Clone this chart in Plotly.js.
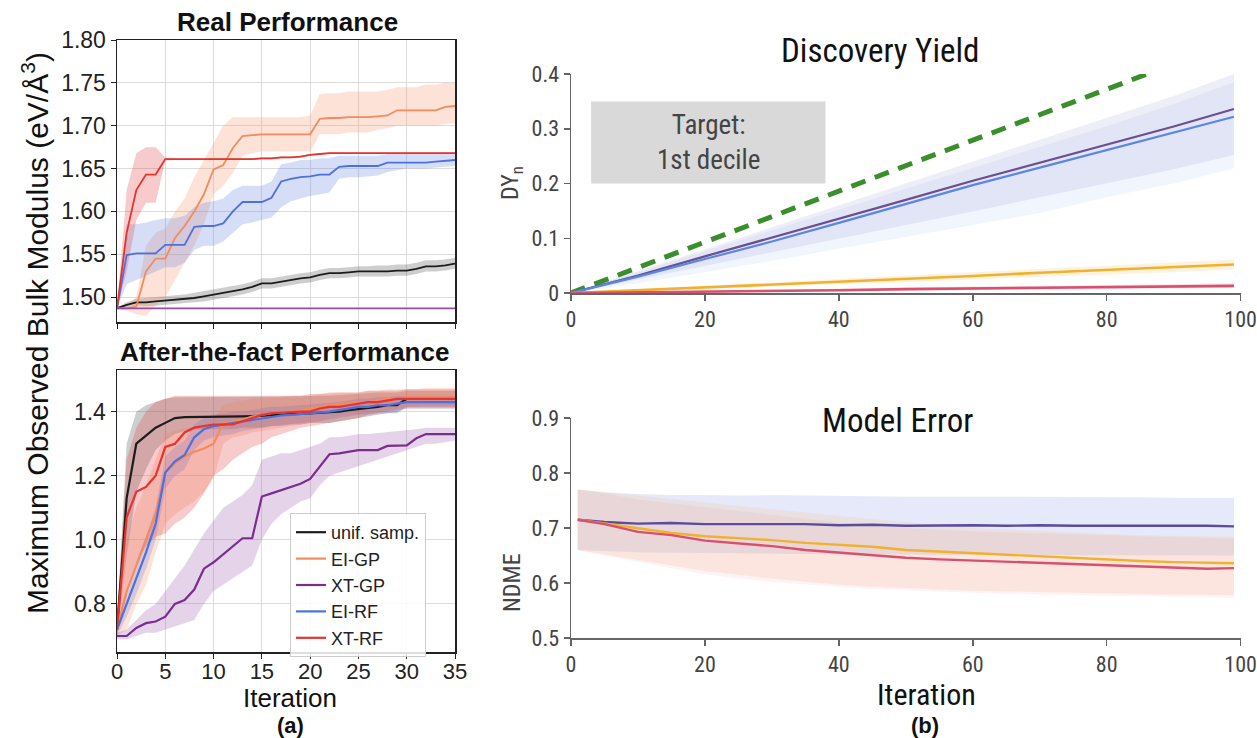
<!DOCTYPE html>
<html>
<head>
<meta charset="utf-8">
<script src="https://cdn.plot.ly/plotly-3.0.1.min.js"></script>
<style>html,body{margin:0;padding:0;background:#fff;}#chart{width:1257px;height:738px;}</style>
</head>
<body>
<div id="chart"></div>
<script>
// ---------- Panel (a) top: Real Performance ----------
const RP_X = [0,1,2,3,4,5,6,7,8,9,10,11,12,13,14,15,16,17,18,19,20,21,22,23,24,25,26,27,28,29,30,31,32,33,34,35];
const RP_UNIF = [1.487,1.491,1.494,1.494,1.495,1.496,1.497,1.498,1.499,1.501,1.503,1.505,1.507,1.509,1.512,1.516,1.516,1.518,1.520,1.522,1.523,1.526,1.528,1.528,1.529,1.530,1.530,1.530,1.530,1.531,1.531,1.533,1.536,1.536,1.537,1.539];
const RP_UNIF_HI = [1.488,1.494,1.498,1.499,1.500,1.501,1.502,1.503,1.505,1.507,1.509,1.511,1.513,1.515,1.518,1.522,1.522,1.524,1.526,1.528,1.529,1.532,1.534,1.534,1.535,1.536,1.536,1.537,1.537,1.538,1.538,1.540,1.543,1.543,1.544,1.546];
const RP_UNIF_LO = [1.486,1.488,1.490,1.489,1.490,1.491,1.492,1.493,1.494,1.495,1.497,1.499,1.501,1.503,1.506,1.510,1.510,1.512,1.514,1.516,1.517,1.520,1.522,1.522,1.523,1.524,1.524,1.524,1.524,1.525,1.525,1.527,1.530,1.530,1.531,1.533];
const RP_EIGP = [1.487,1.487,1.489,1.530,1.545,1.545,1.569,1.583,1.600,1.620,1.649,1.654,1.674,1.688,1.689,1.690,1.690,1.690,1.690,1.690,1.690,1.708,1.709,1.709,1.710,1.710,1.710,1.711,1.712,1.718,1.718,1.718,1.718,1.718,1.722,1.723];
const RP_EIGP_HI = [1.487,1.490,1.500,1.560,1.575,1.580,1.600,1.615,1.640,1.660,1.680,1.700,1.710,1.710,1.710,1.710,1.710,1.710,1.710,1.710,1.712,1.737,1.738,1.738,1.740,1.740,1.740,1.740,1.742,1.745,1.745,1.745,1.748,1.748,1.750,1.750];
const RP_EIGP_LO = [1.487,1.484,1.480,1.478,1.490,1.500,1.520,1.540,1.560,1.585,1.620,1.630,1.645,1.665,1.668,1.670,1.670,1.670,1.670,1.670,1.670,1.690,1.690,1.690,1.692,1.692,1.692,1.695,1.697,1.700,1.700,1.700,1.700,1.700,1.702,1.703];
const RP_XTGP = [1.487,1.487,1.487,1.487,1.487,1.487,1.487,1.487,1.487,1.487,1.487,1.487,1.487,1.487,1.487,1.487,1.487,1.487,1.487,1.487,1.487,1.487,1.487,1.487,1.487,1.487,1.487,1.487,1.487,1.487,1.487,1.487,1.487,1.487,1.487,1.487];
const RP_EIRF = [1.487,1.549,1.551,1.551,1.551,1.561,1.561,1.561,1.582,1.583,1.583,1.586,1.600,1.611,1.611,1.611,1.616,1.635,1.638,1.640,1.641,1.643,1.643,1.652,1.653,1.653,1.653,1.653,1.657,1.657,1.657,1.657,1.657,1.658,1.659,1.660];
const RP_EIRF_HI = [1.487,1.585,1.585,1.587,1.590,1.592,1.592,1.595,1.605,1.610,1.612,1.615,1.625,1.630,1.630,1.630,1.635,1.655,1.657,1.660,1.660,1.662,1.662,1.665,1.665,1.665,1.665,1.665,1.667,1.667,1.667,1.667,1.667,1.667,1.667,1.668];
const RP_EIRF_LO = [1.487,1.515,1.520,1.525,1.530,1.535,1.535,1.540,1.555,1.560,1.560,1.565,1.575,1.585,1.587,1.590,1.593,1.605,1.612,1.615,1.618,1.620,1.622,1.638,1.640,1.640,1.641,1.642,1.646,1.648,1.650,1.650,1.650,1.651,1.652,1.653];
const RP_XTRF = [1.487,1.575,1.625,1.643,1.643,1.661,1.661,1.661,1.661,1.661,1.661,1.661,1.661,1.661,1.661,1.662,1.662,1.663,1.663,1.664,1.666,1.667,1.668,1.668,1.668,1.668,1.668,1.668,1.668,1.668,1.668,1.668,1.668,1.668,1.668,1.668];
const RP_XTRF_HI = [1.487,1.625,1.668,1.675,1.675,1.663,1.662,1.662,1.662,1.662,1.662,1.662,1.662,1.662,1.662,1.663,1.663,1.664,1.664,1.665,1.667,1.668,1.669,1.669,1.669,1.669,1.669,1.669,1.669,1.669,1.669,1.669,1.669,1.669,1.669,1.669];
const RP_XTRF_LO = [1.487,1.530,1.590,1.610,1.610,1.659,1.660,1.660,1.660,1.660,1.660,1.660,1.660,1.660,1.660,1.661,1.661,1.662,1.662,1.663,1.665,1.666,1.667,1.667,1.667,1.667,1.667,1.667,1.667,1.667,1.667,1.667,1.667,1.667,1.667,1.667];

// ---------- Panel (a) bottom: After-the-fact Performance ----------
const AF_X = RP_X;
const AF_UNIF = [0.72,1.13,1.30,1.325,1.35,1.365,1.38,1.383,1.383,1.383,1.383,1.383,1.383,1.385,1.386,1.388,1.39,1.39,1.392,1.393,1.395,1.396,1.397,1.40,1.405,1.408,1.41,1.415,1.42,1.42,1.44,1.44,1.44,1.44,1.44,1.44];
const AF_UNIF_HI = [0.75,1.30,1.40,1.42,1.43,1.44,1.445,1.445,1.445,1.445,1.445,1.445,1.445,1.445,1.445,1.445,1.445,1.445,1.447,1.448,1.45,1.45,1.45,1.452,1.455,1.455,1.457,1.46,1.46,1.46,1.465,1.465,1.465,1.465,1.465,1.465];
const AF_UNIF_LO = [0.70,0.95,1.15,1.22,1.28,1.31,1.33,1.34,1.345,1.345,1.345,1.345,1.345,1.35,1.35,1.35,1.355,1.355,1.36,1.36,1.365,1.365,1.365,1.37,1.375,1.38,1.385,1.39,1.395,1.395,1.415,1.415,1.415,1.415,1.415,1.415];
const AF_EIGP = [0.72,0.84,0.92,1.00,1.08,1.21,1.24,1.26,1.275,1.285,1.30,1.365,1.37,1.375,1.385,1.39,1.395,1.397,1.40,1.405,1.41,1.415,1.42,1.425,1.425,1.43,1.43,1.435,1.44,1.44,1.445,1.445,1.445,1.445,1.445,1.445];
const AF_EIGP_HI = [0.78,1.00,1.10,1.17,1.25,1.33,1.34,1.35,1.35,1.36,1.38,1.42,1.43,1.435,1.44,1.44,1.445,1.445,1.45,1.45,1.45,1.455,1.455,1.46,1.46,1.46,1.465,1.465,1.47,1.47,1.47,1.47,1.475,1.475,1.475,1.475];
const AF_EIGP_LO = [0.70,0.72,0.80,0.86,0.96,1.05,1.08,1.10,1.12,1.15,1.19,1.30,1.32,1.325,1.335,1.34,1.345,1.35,1.355,1.36,1.365,1.37,1.38,1.385,1.39,1.39,1.395,1.40,1.405,1.41,1.415,1.415,1.42,1.42,1.42,1.42];
const AF_XTGP = [0.70,0.70,0.725,0.74,0.745,0.76,0.80,0.812,0.845,0.91,0.93,0.955,0.98,1.005,1.005,1.135,1.145,1.155,1.165,1.175,1.19,1.23,1.267,1.27,1.275,1.28,1.28,1.28,1.293,1.295,1.295,1.317,1.33,1.33,1.33,1.33];
const AF_XTGP_HI = [0.71,0.72,0.75,0.78,0.80,0.84,0.88,0.92,0.97,1.02,1.06,1.10,1.12,1.14,1.17,1.25,1.26,1.27,1.27,1.28,1.29,1.30,1.32,1.32,1.325,1.33,1.33,1.333,1.335,1.337,1.34,1.345,1.35,1.35,1.35,1.35];
const AF_XTGP_LO = [0.69,0.69,0.70,0.71,0.71,0.72,0.73,0.74,0.75,0.80,0.84,0.86,0.88,0.90,0.92,1.00,1.05,1.08,1.10,1.12,1.13,1.17,1.20,1.21,1.22,1.23,1.24,1.25,1.26,1.27,1.28,1.29,1.30,1.30,1.305,1.31];
const AF_EIRF = [0.72,0.80,0.88,0.96,1.05,1.21,1.245,1.265,1.32,1.345,1.355,1.36,1.365,1.37,1.375,1.38,1.385,1.388,1.39,1.392,1.395,1.398,1.40,1.405,1.41,1.415,1.415,1.42,1.42,1.425,1.43,1.43,1.43,1.43,1.43,1.43];
const AF_EIRF_HI = [0.74,0.84,0.93,1.01,1.10,1.26,1.29,1.31,1.36,1.38,1.39,1.395,1.40,1.40,1.405,1.41,1.415,1.415,1.418,1.42,1.422,1.425,1.427,1.43,1.435,1.44,1.44,1.445,1.445,1.45,1.45,1.45,1.45,1.45,1.45,1.45];
const AF_EIRF_LO = [0.70,0.76,0.83,0.91,1.00,1.16,1.20,1.22,1.28,1.31,1.32,1.325,1.33,1.34,1.345,1.35,1.355,1.36,1.362,1.365,1.368,1.37,1.375,1.38,1.385,1.39,1.39,1.395,1.395,1.40,1.41,1.41,1.41,1.41,1.41,1.41];
const AF_XTRF = [0.72,1.07,1.15,1.165,1.20,1.29,1.30,1.335,1.35,1.355,1.36,1.36,1.36,1.37,1.38,1.39,1.395,1.397,1.40,1.40,1.40,1.41,1.415,1.415,1.42,1.425,1.43,1.43,1.435,1.44,1.44,1.44,1.44,1.44,1.44,1.44];
const AF_XTRF_HI = [0.75,1.25,1.35,1.40,1.43,1.44,1.45,1.45,1.45,1.45,1.45,1.45,1.45,1.45,1.45,1.45,1.45,1.45,1.45,1.45,1.455,1.455,1.46,1.46,1.46,1.46,1.465,1.465,1.465,1.465,1.47,1.47,1.47,1.47,1.47,1.47];
const AF_XTRF_LO = [0.70,0.85,0.93,0.98,1.01,1.02,1.05,1.07,1.10,1.145,1.20,1.22,1.25,1.27,1.29,1.30,1.32,1.33,1.34,1.35,1.355,1.36,1.365,1.37,1.375,1.38,1.39,1.395,1.40,1.405,1.41,1.41,1.41,1.41,1.41,1.41];

// ---------- Panel (b) top: Discovery Yield ----------
const DY_X = [0,10,20,30,40,50,60,70,80,90,99];
const DY_PURPLE = [0,0.032,0.067,0.101,0.135,0.170,0.205,0.238,0.271,0.304,0.336];
const DY_PURPLE_HI = [0,0.040,0.080,0.120,0.160,0.200,0.240,0.280,0.320,0.360,0.400];
const DY_PURPLE_LO = [0,0.024,0.049,0.074,0.099,0.124,0.149,0.174,0.200,0.226,0.252];
const DY_BLUE = [0,0.030,0.062,0.094,0.128,0.162,0.197,0.229,0.261,0.292,0.322];
const DY_BLUE_HI = [0,0.038,0.076,0.114,0.152,0.190,0.228,0.266,0.305,0.345,0.385];
const DY_BLUE_LO = [0,0.018,0.038,0.059,0.080,0.102,0.124,0.146,0.175,0.200,0.228];
const DY_YELLOW = [0,0.005,0.010,0.015,0.021,0.026,0.031,0.037,0.042,0.047,0.052];
const DY_YELLOW_HI = [0,0.007,0.013,0.019,0.026,0.032,0.038,0.044,0.050,0.056,0.061];
const DY_YELLOW_LO = [0,0.003,0.007,0.011,0.016,0.020,0.024,0.029,0.034,0.038,0.043];
const DY_RED = [0,0.001,0.003,0.004,0.005,0.007,0.008,0.009,0.011,0.012,0.013];
const DY_RED_HI = [0,0.002,0.005,0.006,0.008,0.010,0.012,0.013,0.015,0.017,0.018];
const DY_RED_LO = [0,0,0.001,0.002,0.003,0.004,0.005,0.006,0.007,0.008,0.009];
const DY_IDEAL_X = [0,86];
const DY_IDEAL = [0,0.4];
const TARGET_BOX_X = [3,38];
const TARGET_BOX_Y = [0.2,0.35];

// ---------- Panel (b) bottom: Model Error ----------
const ME_X = [1,5,10,15,20,25,30,35,40,45,50,55,60,65,70,75,80,85,90,95,99];
const ME_PURPLE = [0.715,0.711,0.708,0.709,0.707,0.707,0.706,0.707,0.705,0.706,0.704,0.705,0.705,0.704,0.705,0.704,0.704,0.704,0.705,0.704,0.703];
const ME_PURPLE_HI = [0.770,0.765,0.762,0.760,0.760,0.759,0.760,0.759,0.758,0.758,0.757,0.757,0.757,0.757,0.757,0.756,0.756,0.756,0.755,0.755,0.755];
const ME_PURPLE_LO = [0.660,0.658,0.656,0.655,0.654,0.654,0.653,0.653,0.652,0.652,0.652,0.651,0.651,0.651,0.650,0.650,0.650,0.650,0.650,0.650,0.650];
const ME_YELLOW = [0.715,0.708,0.699,0.691,0.685,0.682,0.678,0.673,0.669,0.666,0.660,0.657,0.654,0.651,0.648,0.645,0.642,0.640,0.638,0.637,0.636];
const ME_YELLOW_HI = [0.770,0.765,0.758,0.752,0.746,0.740,0.734,0.728,0.722,0.716,0.710,0.705,0.700,0.697,0.694,0.691,0.689,0.687,0.686,0.685,0.684];
const ME_YELLOW_LO = [0.660,0.652,0.642,0.632,0.622,0.615,0.608,0.602,0.597,0.593,0.590,0.588,0.586,0.584,0.583,0.582,0.581,0.580,0.579,0.578,0.578];
const ME_RED = [0.715,0.707,0.693,0.687,0.677,0.672,0.667,0.660,0.655,0.650,0.646,0.643,0.641,0.639,0.636,0.634,0.632,0.630,0.629,0.626,0.627];
const ME_RED_HI = [0.770,0.763,0.752,0.745,0.737,0.730,0.723,0.716,0.710,0.705,0.700,0.697,0.694,0.692,0.690,0.688,0.686,0.684,0.683,0.682,0.681];
const ME_RED_LO = [0.660,0.650,0.638,0.627,0.616,0.608,0.602,0.597,0.593,0.589,0.586,0.584,0.582,0.580,0.579,0.578,0.577,0.576,0.575,0.574,0.573];

const LEGEND_NAMES = ['unif. samp.','EI-GP','XT-GP','EI-RF','XT-RF'];

// ---------- styling ----------
const C = {unif:'#1c1c1c', eigp:'#f28b5e', xtgp:'#7b2d8e', eirf:'#4d70e0', xtrf:'#e8322e'};
const BAND = {unif:'rgba(60,60,60,0.25)', eigp:'rgba(245,150,110,0.28)', xtgp:'rgba(150,80,170,0.25)', eirf:'rgba(90,125,225,0.25)', xtrf:'rgba(225,70,70,0.28)'};
const SANS = 'Liberation Sans, Arial, Helvetica, sans-serif';
const NARROW = 'Roboto Condensed, Liberation Sans Narrow, DejaVu Sans Condensed, Roboto, sans-serif';

const traces = [];
function band(x, lo, hi, color, xa, ya) {
  traces.push({x: x.concat(x.slice().reverse()), y: hi.concat(lo.slice().reverse()),
    type:'scatter', mode:'lines', fill:'toself', fillcolor:color, line:{width:0},
    hoverinfo:'skip', showlegend:false, xaxis:xa, yaxis:ya});
}
function line(x, y, color, width, xa, ya, name, legend, dash) {
  traces.push({x:x, y:y, type:'scatter', mode:'lines', name:name||'',
    line:{color:color, width:width, dash:dash||'solid'}, showlegend:!!legend, xaxis:xa, yaxis:ya});
}

// (a) top
band(RP_X, RP_UNIF_LO, RP_UNIF_HI, BAND.unif, 'x', 'y');
band(RP_X, RP_EIGP_LO, RP_EIGP_HI, BAND.eigp, 'x', 'y');
band(RP_X, RP_EIRF_LO, RP_EIRF_HI, BAND.eirf, 'x', 'y');
band(RP_X, RP_XTRF_LO, RP_XTRF_HI, BAND.xtrf, 'x', 'y');
line(RP_X, RP_UNIF, C.unif, 1.8, 'x', 'y');
line(RP_X, RP_EIGP, C.eigp, 1.8, 'x', 'y');
line(RP_X, RP_XTGP, '#9a4aa8', 1.8, 'x', 'y');
line(RP_X, RP_EIRF, C.eirf, 1.8, 'x', 'y');
line(RP_X, RP_XTRF, C.xtrf, 1.8, 'x', 'y');

// (a) bottom
band(AF_X, AF_UNIF_LO, AF_UNIF_HI, BAND.unif, 'x2', 'y2');
band(AF_X, AF_EIGP_LO, AF_EIGP_HI, BAND.eigp, 'x2', 'y2');
band(AF_X, AF_XTGP_LO, AF_XTGP_HI, BAND.xtgp, 'x2', 'y2');
band(AF_X, AF_EIRF_LO, AF_EIRF_HI, BAND.eirf, 'x2', 'y2');
band(AF_X, AF_XTRF_LO, AF_XTRF_HI, BAND.xtrf, 'x2', 'y2');
line(AF_X, AF_UNIF, C.unif, 2.2, 'x2', 'y2', LEGEND_NAMES[0], true);
line(AF_X, AF_EIGP, C.eigp, 2.2, 'x2', 'y2', LEGEND_NAMES[1], true);
line(AF_X, AF_XTGP, C.xtgp, 2.2, 'x2', 'y2', LEGEND_NAMES[2], true);
line(AF_X, AF_EIRF, C.eirf, 2.2, 'x2', 'y2', LEGEND_NAMES[3], true);
line(AF_X, AF_XTRF, C.xtrf, 2.2, 'x2', 'y2', LEGEND_NAMES[4], true);

// (b) top
band(DY_X, DY_BLUE_LO, DY_BLUE_HI, 'rgba(160,185,240,0.15)', 'x3', 'y3');
band(DY_X, DY_PURPLE_LO, DY_PURPLE_HI, 'rgba(140,140,205,0.15)', 'x3', 'y3');
band(DY_X, DY_YELLOW_LO, DY_YELLOW_HI, 'rgba(245,185,70,0.18)', 'x3', 'y3');
band(DY_X, DY_RED_LO, DY_RED_HI, 'rgba(225,90,120,0.18)', 'x3', 'y3');
line(DY_IDEAL_X, DY_IDEAL, '#3a8f2c', 5, 'x3', 'y3', '', false, '15px,10px');
line(DY_X, DY_PURPLE, '#6b4f92', 2.2, 'x3', 'y3');
line(DY_X, DY_BLUE, '#5a86e6', 2.2, 'x3', 'y3');
line(DY_X, DY_YELLOW, '#f0b22e', 2.6, 'x3', 'y3');
line(DY_X, DY_RED, '#d9506e', 2.6, 'x3', 'y3');

// (b) bottom
band(ME_X, ME_PURPLE_LO, ME_PURPLE_HI, 'rgba(165,175,235,0.28)', 'x4', 'y4');
band(ME_X, ME_YELLOW_LO, ME_YELLOW_HI, 'rgba(245,190,140,0.22)', 'x4', 'y4');
band(ME_X, ME_RED_LO, ME_RED_HI, 'rgba(235,150,165,0.12)', 'x4', 'y4');
line(ME_X, ME_PURPLE, '#5b4c9c', 2.4, 'x4', 'y4');
line(ME_X, ME_YELLOW, '#f0b22e', 2.4, 'x4', 'y4');
line(ME_X, ME_RED, '#d9506e', 2.4, 'x4', 'y4');

const W = 1257, H = 738;
const px = v => v / W, py = v => 1 - v / H;

const leftX = {range:[0,35], tickvals:[0,5,10,15,20,25,30,35], ticks:'outside', ticklen:5, tickcolor:'#222',
  showline:true, mirror:true, linecolor:'#222', linewidth:1.5, showgrid:true, gridcolor:'#dcdcdc', gridwidth:1,
  zeroline:false, domain:[px(117), px(455)], tickfont:{family:SANS, size:22, color:'#222'}, fixedrange:true,
  ticklabeloverflow:'allow', ticklabelstandoff:-6};
const leftY = {ticks:'outside', ticklen:5, tickcolor:'#222', showline:true, mirror:true, linecolor:'#222', linewidth:1.5,
  showgrid:true, gridcolor:'#dcdcdc', gridwidth:1, zeroline:false, tickfont:{family:SANS, size:23, color:'#222'}, fixedrange:true};
const rightX = {range:[0,100.05], tickvals:[0,20,40,60,80,100], ticks:'outside', ticklen:6, tickcolor:'#666', tickwidth:1.5,
  showline:true, linecolor:'#666', linewidth:1.5, showgrid:false, zeroline:false, domain:[px(571), px(1241)],
  tickfont:{family:NARROW, size:22, color:'#444'}, fixedrange:true, ticklabeloverflow:'allow'};
const rightY = {ticks:'outside', ticklen:6, tickcolor:'#666', tickwidth:1.5, showline:true, linecolor:'#666', linewidth:1.5,
  showgrid:false, zeroline:false, tickfont:{family:NARROW, size:22, color:'#444'}, fixedrange:true};

function ann(text, x, y, font, extra) {
  return Object.assign({text:text, x:px(x), y:py(y), xref:'paper', yref:'paper', showarrow:false,
    xanchor:'center', yanchor:'middle', font:font}, extra || {});
}

const layout = {
  width:W, height:H, margin:{l:0, r:0, t:0, b:0}, paper_bgcolor:'#fff', plot_bgcolor:'rgba(0,0,0,0)',
  font:{family:SANS, color:'#222'},
  xaxis: Object.assign({}, leftX, {anchor:'y', showticklabels:false}),
  yaxis: Object.assign({}, leftY, {anchor:'x', domain:[py(322), py(40)], range:[1.471,1.80],
    tickvals:[1.50,1.55,1.60,1.65,1.70,1.75,1.80], tickformat:'.2f'}),
  xaxis2: Object.assign({}, leftX, {anchor:'y2'}),
  yaxis2: Object.assign({}, leftY, {anchor:'x2', domain:[py(652), py(370)], range:[0.65,1.53],
    tickvals:[0.8,1.0,1.2,1.4], tickformat:'.1f'}),
  xaxis3: Object.assign({}, rightX, {anchor:'y3'}),
  yaxis3: Object.assign({}, rightY, {anchor:'x3', domain:[py(293), py(74)], range:[0,0.4],
    tickvals:[0,0.1,0.2,0.3,0.4], ticktext:['0','0.1','0.2','0.3','0.4']}),
  xaxis4: Object.assign({}, rightX, {anchor:'y4'}),
  yaxis4: Object.assign({}, rightY, {anchor:'x4', domain:[py(638), py(418)], range:[0.5,0.9],
    tickvals:[0.5,0.6,0.7,0.8,0.9], tickformat:'.1f'}),
  showlegend:true,
  legend:{x:px(290), y:py(513), xanchor:'left', yanchor:'top', bgcolor:'rgba(255,255,255,0.85)',
    bordercolor:'#cccccc', borderwidth:1, font:{family:SANS, size:18, color:'#222'}, traceorder:'normal', tracegroupgap:0},
  shapes:[{type:'rect', xref:'x3', yref:'y3', x0:TARGET_BOX_X[0], x1:TARGET_BOX_X[1], y0:TARGET_BOX_Y[0], y1:TARGET_BOX_Y[1],
    fillcolor:'#d9d9d9', line:{width:0}, layer:'below'}],
  annotations:[
    ann('<b>Real Performance</b>', 287, 22, {family:SANS, size:26, color:'#111'}),
    ann('<b>After-the-fact Performance</b>', 284, 352, {family:SANS, size:26, color:'#111'}),
    ann('Maximum Observed Bulk Modulus (eV/Å<sup>3</sup>)', 35, 333, {family:SANS, size:30, color:'#111'}, {textangle:-90}),
    ann('Iteration', 290, 698, {family:SANS, size:26, color:'#111'}),
    ann('<b>(a)</b>', 290, 725, {family:SANS, size:22, color:'#111'}),
    ann('Discovery Yield', 880, 50, {family:NARROW, size:33, color:'#111'}),
    ann('Model Error', 897, 420, {family:NARROW, size:33, color:'#111'}),
    ann('DY<sub>n</sub>', 512, 183, {family:NARROW, size:24, color:'#444'}, {textangle:-90}),
    ann('NDME', 512, 583, {family:NARROW, size:24, color:'#444'}, {textangle:-90}),
    ann('Iteration', 926, 694, {family:NARROW, size:30, color:'#111'}),
    ann('<b>(b)</b>', 925, 725, {family:SANS, size:22, color:'#111'}),
    {text:'Target:<br>1st decile', x:(TARGET_BOX_X[0]+TARGET_BOX_X[1])/2, y:(TARGET_BOX_Y[0]+TARGET_BOX_Y[1])/2, xref:'x3', yref:'y3',
      xanchor:'center', yanchor:'middle', showarrow:false, align:'center', font:{family:NARROW, size:27, color:'#444'}}
  ]
};

Plotly.newPlot('chart', traces, layout, {staticPlot:true, displayModeBar:false});
</script>
</body>
</html>
